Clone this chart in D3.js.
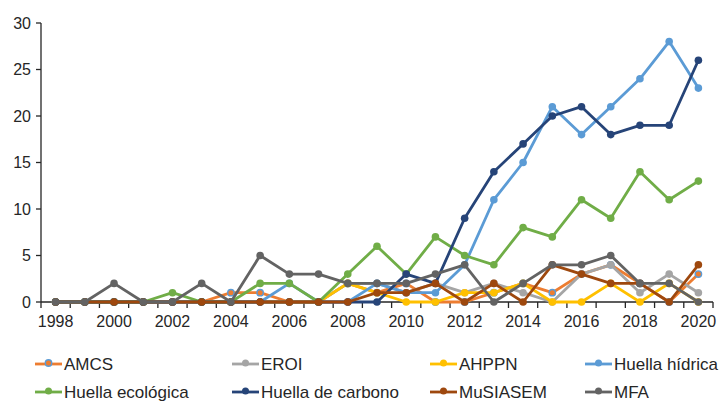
<!DOCTYPE html>
<html>
<head>
<meta charset="utf-8">
<script src="https://cdn.jsdelivr.net/npm/d3@7"></script>
<style>
body { margin: 0; background: #fff; }
text { font-family: Arial, "Liberation Sans", sans-serif; fill: #262626; }
</style>
</head>
<body>
<svg id="chart" width="726" height="402"></svg>
<script>
var years = d3.range(1998, 2021);
var yTicks = [0, 5, 10, 15, 20, 25, 30];

var seriesNames = ["AMCS", "EROI", "AHPPN", "Huella hídrica", "Huella ecológica", "Huella de carbono", "MuSIASEM", "MFA"];
var seriesColors = ["#ED7D31", "#A5A5A5", "#FFC000", "#5B9BD5", "#70AD47", "#264478", "#9E480E", "#636363"];

//            1998                      2004                      2010                      2016             2020
var amcs     = [0, 0, 0, 0, 0, 0, 1, 1, 0, 0, 2, 1, 2, 0, 0, 1, 2, 1, 3, 4, 2, 0, 3];
var eroi     = [0, 0, 0, 0, 0, 0, 0, 0, 0, 0, 2, 2, 1, 2, 1, 2, 1, 0, 3, 4, 1, 3, 1];
var ahppn    = [0, 0, 0, 0, 0, 0, 0, 0, 0, 0, 2, 1, 0, 0, 1, 1, 2, 0, 0, 2, 0, 2, 0];
var hidrica  = [0, 0, 0, 0, 0, 0, 0, 0, 2, 0, 0, 2, 1, 1, 4, 11, 15, 21, 18, 21, 24, 28, 23];
var ecologica = [0, 0, 0, 0, 1, 0, 0, 2, 2, 0, 3, 6, 3, 7, 5, 4, 8, 7, 11, 9, 14, 11, 13];
var carbono  = [0, 0, 0, 0, 0, 0, 0, 0, 0, 0, 0, 0, 3, 2, 9, 14, 17, 20, 21, 18, 19, 19, 26];
var musiasem = [0, 0, 0, 0, 0, 0, 0, 0, 0, 0, 0, 1, 1, 2, 0, 2, 0, 4, 3, 2, 2, 0, 4];
var mfa      = [0, 0, 2, 0, 0, 2, 0, 5, 3, 3, 2, 2, 2, 3, 4, 0, 2, 4, 4, 5, 2, 2, 0];

var seriesValues = [amcs, eroi, ahppn, hidrica, ecologica, carbono, musiasem, mfa];

var svg = d3.select("#chart");

var x = d3.scaleBand()
    .domain(years)
    .range([41, 713])
    .padding(0);

var y = d3.scaleLinear()
    .domain([0, 30])
    .range([302, 23]);

function cx(yr) {
    return x(yr) + x.bandwidth() / 2;
}

// y axis
svg.append("line")
    .attr("x1", 41).attr("x2", 41)
    .attr("y1", y(30)).attr("y2", y(0))
    .attr("stroke", "#262626")
    .attr("stroke-width", 1.3);

svg.selectAll(".ytick")
    .data(yTicks)
    .enter()
    .append("line")
    .attr("class", "ytick")
    .attr("x1", 36).attr("x2", 41)
    .attr("y1", function(d) { return y(d); })
    .attr("y2", function(d) { return y(d); })
    .attr("stroke", "#262626")
    .attr("stroke-width", 1.3);

svg.selectAll(".ylabel")
    .data(yTicks)
    .enter()
    .append("text")
    .attr("class", "ylabel")
    .attr("x", 31)
    .attr("y", function(d) { return y(d); })
    .attr("dy", "0.36em")
    .attr("text-anchor", "end")
    .style("font-size", "16px")
    .text(function(d) { return d; });

// x axis, ticks sit between the categories
svg.append("line")
    .attr("x1", 41).attr("x2", 713)
    .attr("y1", y(0)).attr("y2", y(0))
    .attr("stroke", "#262626")
    .attr("stroke-width", 1.3);

svg.selectAll(".xtick")
    .data(years.concat([2021]))
    .enter()
    .append("line")
    .attr("class", "xtick")
    .attr("x1", function(d) { return d === 2021 ? 713 : x(d); })
    .attr("x2", function(d) { return d === 2021 ? 713 : x(d); })
    .attr("y1", y(0)).attr("y2", y(0) + 6)
    .attr("stroke", "#262626")
    .attr("stroke-width", 1.3);

svg.selectAll(".xlabel")
    .data(years.filter(function(d) { return d % 2 === 0; }))
    .enter()
    .append("text")
    .attr("class", "xlabel")
    .attr("x", function(d) { return cx(d); })
    .attr("y", 327)
    .attr("text-anchor", "middle")
    .style("font-size", "16px")
    .text(function(d) { return d; });

// lines
var line = d3.line()
    .x(function(d, i) { return cx(years[i]); })
    .y(function(d) { return y(d); });

seriesValues.forEach(function(vals, k) {
    var g = svg.append("g").attr("class", "series");
    g.append("path")
        .attr("d", line(vals))
        .attr("fill", "none")
        .attr("stroke", seriesColors[k])
        .attr("stroke-width", 2.8)
        .attr("stroke-linejoin", "round");
    g.selectAll("circle")
        .data(vals)
        .enter()
        .append("circle")
        .attr("cx", function(d, i) { return cx(years[i]); })
        .attr("cy", function(d) { return y(d); })
        .attr("r", k === 0 ? 3.2 : 3.8)
        .attr("fill", seriesColors[k])
        .attr("stroke", k === 0 ? "#5B9BD5" : "none")
        .attr("stroke-width", 1.4);
});

// legend
var legendX = [35, 232, 430, 585];
var legendY = [364, 392];

seriesNames.forEach(function(name, k) {
    var lx = legendX[k % 4], ly = legendY[Math.floor(k / 4)];
    var g = svg.append("g").attr("transform", "translate(" + lx + "," + ly + ")");
    g.append("line")
        .attr("x1", 0).attr("x2", 27)
        .attr("y1", 0).attr("y2", 0)
        .attr("stroke", seriesColors[k])
        .attr("stroke-width", 2.8);
    g.append("circle")
        .attr("cx", 13.5).attr("cy", -1)
        .attr("r", k === 0 ? 3.2 : 3.5)
        .attr("fill", seriesColors[k])
        .attr("stroke", k === 0 ? "#5B9BD5" : "none")
        .attr("stroke-width", 1.4);
    g.append("text")
        .attr("x", 29)
        .attr("y", 0)
        .attr("dy", "0.36em")
        .style("font-size", "17px")
        .text(name);
});
</script>
</body>
</html>
